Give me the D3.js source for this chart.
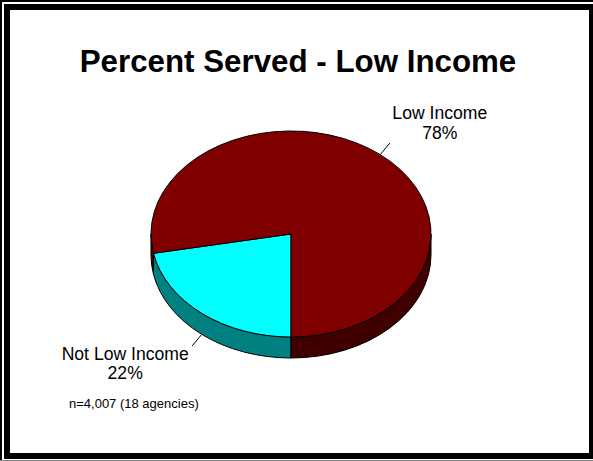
<!DOCTYPE html>
<html>
<head>
<meta charset="utf-8">
<script src="https://cdn.jsdelivr.net/npm/d3@7"></script>
<style>
  body { margin: 0; background: #fff; }
  svg { display: block; font-family: "Liberation Sans", Arial, sans-serif; }
</style>
</head>
<body>
<div id="chart"></div>
<script>
// data
var categories = ["Not Low Income", "Low Income"];
var percents = [22, 78];
var titleText = "Percent Served - Low Income";
var noteText = "n=4,007 (18 agencies)";

var W = 593, H = 461;
var svg = d3.select("#chart").append("svg").attr("width", W).attr("height", H);

// frame
svg.append("rect").attr("x", 0).attr("y", 0).attr("width", W).attr("height", H).attr("fill", "#fff");
svg.append("rect").attr("x", 0).attr("y", 0).attr("width", W).attr("height", 2).attr("fill", "#000");
svg.append("rect").attr("x", 0).attr("y", 0).attr("width", 2).attr("height", H).attr("fill", "#000");
svg.append("rect").attr("x", 4).attr("y", 4).attr("width", W - 4).attr("height", 455).attr("fill", "#000");
svg.append("rect").attr("x", 0).attr("y", 460).attr("width", W).attr("height", 1).attr("fill", "#888");
svg.append("rect").attr("x", 10).attr("y", 10).attr("width", 579).attr("height", 443).attr("fill", "#fff");

svg.append("text")
    .attr("x", 298).attr("y", 72)
    .attr("text-anchor", "middle")
    .style("font-size", "31.3px").style("font-weight", "bold")
    .text(titleText);

var cx = 291, cy = 234, rx = 140, ry = 103, depth = 21;

var data = categories.map(function (c, i) { return {name: c, value: percents[i]}; });
var color = d3.scaleOrdinal().domain(categories).range(["#00FFFF", "#800000"]);
var sideColor = function (name) {
    var c = d3.rgb(color(name));
    return d3.rgb(c.r * 0.5, c.g * 0.5, c.b * 0.5).formatHex();
};

var pie = d3.pie().sort(null).value(function (d) { return d.value; })
    .startAngle(Math.PI).endAngle(3 * Math.PI);
var arcs = pie(data);

function pt(a, dy) {
    return [cx + rx * Math.sin(a), cy - ry * Math.cos(a) + (dy || 0)];
}

function sidePath(a0, a1) {
    var p0 = pt(a0), p1 = pt(a1), q0 = pt(a0, depth), q1 = pt(a1, depth);
    return "M" + p0 + "A" + rx + "," + ry + " 0 0 1 " + p1 +
        "L" + q1 + "A" + rx + "," + ry + " 0 0 0 " + q0 + "Z";
}

// side walls (front half only)
var sides = [];
arcs.forEach(function (d) {
    for (var k = 0; k < 3; k++) {
        var lo = Math.PI / 2 + 2 * Math.PI * k, hi = 3 * Math.PI / 2 + 2 * Math.PI * k;
        var s = Math.max(d.startAngle, lo), e = Math.min(d.endAngle, hi);
        if (e > s) sides.push({name: d.data.name, s: s, e: e});
    }
});

svg.append("g").selectAll("path").data(sides).enter().append("path")
    .attr("d", function (d) { return sidePath(d.s, d.e); })
    .attr("fill", function (d) { return sideColor(d.name); })
    .attr("stroke", "#000").attr("stroke-width", 1).attr("stroke-linejoin", "round");

// top face
var arc = d3.arc().innerRadius(0).outerRadius(rx);
svg.append("g")
    .attr("transform", "translate(" + cx + "," + cy + ") scale(1," + (ry / rx) + ")")
    .selectAll("path").data(arcs).enter().append("path")
    .attr("d", arc)
    .attr("fill", function (d) { return color(d.data.name); })
    .attr("stroke", "#000").attr("stroke-width", 1)
    .attr("vector-effect", "non-scaling-stroke")
    .attr("stroke-linejoin", "round");

// labels with leader lines
var labelOffset = {
    "Low Income": {dx: 50, dy: -24},
    "Not Low Income": {dx: -67, dy: 14}
};
arcs.forEach(function (d) {
    var mid = (d.startAngle + d.endAngle) / 2;
    var front = Math.cos(mid) < 0;
    var p = pt(mid, front ? depth : 0);
    var len = 15;
    var q = [p[0] + Math.sin(mid) * len, p[1] - Math.cos(mid) * len];
    svg.append("line")
        .attr("x1", p[0]).attr("y1", p[1]).attr("x2", q[0]).attr("y2", q[1])
        .attr("stroke", "#000").attr("stroke-width", 1);
    var o = labelOffset[d.data.name];
    var t = svg.append("text")
        .attr("text-anchor", "middle")
        .style("font-size", "17.6px").attr("fill", "#000");
    t.append("tspan").attr("x", q[0] + o.dx).attr("y", q[1] + o.dy).text(d.data.name);
    t.append("tspan").attr("x", q[0] + o.dx).attr("dy", 19.5).text(d.data.value + "%");
});

svg.append("text")
    .attr("x", 69).attr("y", 408)
    .style("font-size", "13px")
    .text(noteText);
</script>
</body>
</html>
